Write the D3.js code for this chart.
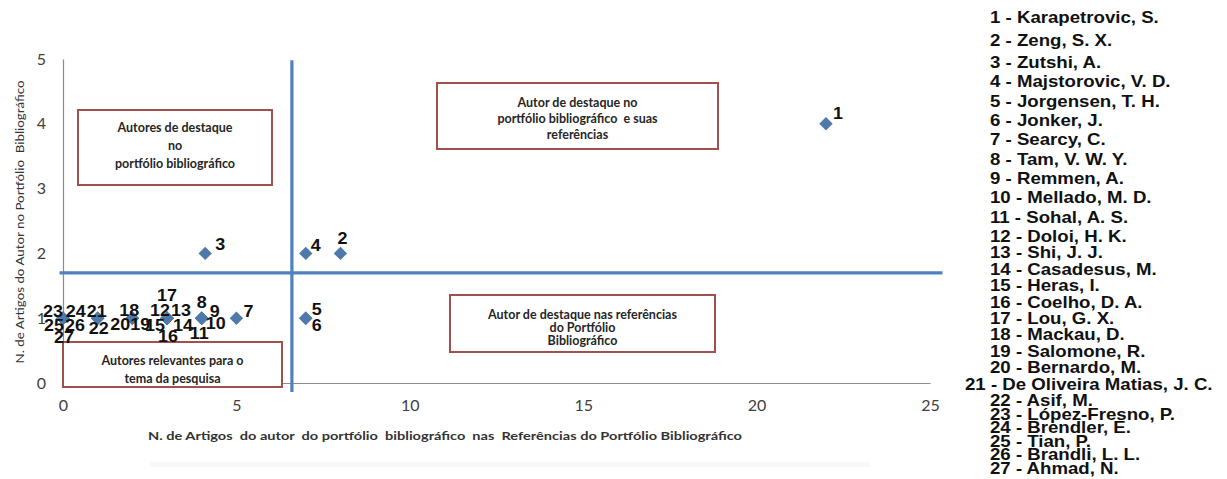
<!DOCTYPE html>
<html>
<head>
<meta charset="utf-8">
<script src="https://cdn.jsdelivr.net/npm/d3@7/dist/d3.min.js"></script>
<style>
  body { margin: 0; background: #fff; }
  svg { display: block; }
</style>
</head>
<body>
<div id="chart"></div>
<script>
// data
const authorIds = d3.range(1, 28);
const authorNames = [
  "Karapetrovic, S.", "Zeng, S. X.", "Zutshi, A.", "Majstorovic, V. D.", "Jorgensen, T. H.",
  "Jonker, J.", "Searcy, C.", "Tam, V. W. Y.", "Remmen, A.", "Mellado, M. D.",
  "Sohal, A. S.", "Doloi, H. K.", "Shi, J. J.", "Casadesus, M.", "Heras, I.",
  "Coelho, D. A.", "Lou, G. X.", "Mackau, D.", "Salomone, R.", "Bernardo, M.",
  "De Oliveira Matias, J. C.", "Asif, M.", "López-Fresno, P.", "Brendler, E.", "Tian, P.",
  "Brandli, L. L.", "Ahmad, N."
];
// x: articles in the references of the portfolio
const refArticles = [22, 8, 4.1, 7, 7, 7, 5, 4, 4, 4, 4, 3, 3, 3, 3, 3, 3, 2, 2, 2, 1, 1, 0, 1, 0, 0, 0];
// y: articles in the portfolio
const portfolioArticles = [4, 2, 2, 2, 1, 1, 1, 1, 1, 1, 1, 1, 1, 1, 1, 1, 1, 1, 1, 1, 1, 1, 1, 1, 1, 1, 1];
const xTicks = [0, 5, 10, 15, 20, 25];
const yTicks = [0, 1, 2, 3, 4, 5];
const xCut = 6.6;
const yCut = 1.7;
const quadrantTexts = [
  ["Autores de destaque", "no", "portfólio bibliográfico"],
  ["Autor de destaque no", "portfólio bibliográfico  e suas", "referências"],
  ["Autor de destaque nas referências", "do Portfólio", "Bibliográfico"],
  ["Autores relevantes para o", "tema da pesquisa"]
];
const xTitle = "N. de Artigos  do autor  do portfólio  bibliográfico  nas  Referências do Portfólio Bibliográfico";
const yTitle = "N. de Artigos do Autor no Portfólio  Bibliográfico";

const W = 1227, H = 479;
const blue = "#4f81bd", boxRed = "#a0504d", axisGray = "#8c8c8c";

const svg = d3.select("#chart").append("svg")
  .attr("width", W).attr("height", H);

const x = d3.scaleLinear().domain([0, 25]).range([63, 930]);
const y = d3.scaleLinear().domain([0, 5]).range([383, 59]);

// faint smudge under the title
svg.append("rect").attr("x", 150).attr("y", 462).attr("width", 720).attr("height", 5)
  .attr("fill", "#f8f8f8");

// axes
const gx = svg.append("g").attr("transform", `translate(0,${y(0)})`)
  .call(d3.axisBottom(x).tickValues(xTicks).tickFormat(d3.format("d")).tickSize(0).tickPadding(17));
const gy = svg.append("g").attr("transform", `translate(${x(0)},0)`)
  .call(d3.axisLeft(y).tickValues(yTicks).tickFormat(d3.format("d")).tickSize(0).tickPadding(17));
[gx, gy].forEach(g => {
  g.select(".domain").attr("stroke", axisGray).attr("stroke-width", 1.2);
  g.selectAll("text").attr("font-family", "Lato, sans-serif").attr("font-size", 16)
    .attr("fill", "#404040");
});

svg.append("text")
  .attr("x", 445).attr("y", 440)
  .attr("text-anchor", "middle")
  .attr("font-family", "Lato, sans-serif").attr("font-size", 12).attr("font-weight", "bold")
  .attr("fill", "#333")
  .attr("textLength", 594).attr("lengthAdjust", "spacingAndGlyphs")
  .attr("xml:space", "preserve")
  .text(xTitle);

svg.append("text")
  .attr("transform", "translate(24,222) rotate(-90)")
  .attr("text-anchor", "middle")
  .attr("font-family", "Lato, sans-serif").attr("font-size", 11.5)
  .attr("fill", "#333")
  .attr("textLength", 283).attr("lengthAdjust", "spacingAndGlyphs")
  .attr("xml:space", "preserve")
  .text(yTitle);

// quadrant boxes
const boxLayout = [
  { x0: 78, y0: 110, x1: 272, y1: 185, lines: [128, 146, 164] },
  { x0: 437, y0: 83, x1: 718, y1: 149, lines: [103, 119, 135] },
  { x0: 450, y0: 295, x1: 715, y1: 352, lines: [315, 328, 341] },
  { x0: 63, y0: 342, x1: 282, y1: 387, lines: [361, 379] }
];
boxLayout.forEach((b, i) => {
  svg.append("rect")
    .attr("x", b.x0).attr("y", b.y0)
    .attr("width", b.x1 - b.x0).attr("height", b.y1 - b.y0)
    .attr("fill", "#fff").attr("stroke", boxRed).attr("stroke-width", 2);
  quadrantTexts[i].forEach((t, j) => {
    svg.append("text")
      .attr("x", (b.x0 + b.x1) / 2).attr("y", b.lines[j] + 4)
      .attr("text-anchor", "middle")
      .attr("font-family", "Lato, sans-serif").attr("font-size", 12.5).attr("font-weight", "bold")
      .attr("fill", "#262626")
      .attr("xml:space", "preserve")
      .text(t);
  });
});

// threshold lines
svg.append("line")
  .attr("x1", x(xCut)).attr("x2", x(xCut))
  .attr("y1", y(-0.14)).attr("y2", y(4.98))
  .attr("stroke", blue).attr("stroke-width", 3.2);
svg.append("line")
  .attr("x1", x(-0.1)).attr("x2", x(25.36))
  .attr("y1", y(yCut)).attr("y2", y(yCut))
  .attr("stroke", blue).attr("stroke-width", 3.2);

// points
const points = authorIds.map((id, i) => ({ id, rx: refArticles[i], py: portfolioArticles[i] }));
const diamond = d3.symbol().type(d3.symbolSquare).size(90);
svg.selectAll("path.pt")
  .data(points)
  .join("path")
  .attr("class", "pt")
  .attr("d", diamond)
  .attr("transform", d => `translate(${x(d.rx)},${y(d.py)}) rotate(45)`)
  .attr("fill", "#4e7aab");

// label placement around each diamond (dx, baseline dy)
const labelOffset = {
  1: [7, -5], 2: [-3, -9], 3: [10, -3], 4: [5, -2], 5: [6, -3], 6: [6, 13],
  7: [7, -1], 8: [-5, -10], 9: [8, -1], 10: [4, 11], 11: [-12, 21],
  12: [-17, -2], 13: [4, -2], 14: [6, 13], 15: [-22, 13], 16: [-9, 24], 17: [-10, -17],
  18: [-13, -2], 19: [-2, 12], 20: [-22, 12], 21: [-11, -1], 22: [-9, 16],
  23: [-20, -1], 24: [-32, -1], 25: [-19, 13], 26: [2, 13], 27: [-9, 25]
};
svg.selectAll("text.lbl")
  .data(points)
  .join("text")
  .attr("class", "lbl")
  .attr("transform", d => `translate(${x(d.rx) + labelOffset[d.id][0]},${y(d.py) + labelOffset[d.id][1]}) scale(1.12,1)`)
  .attr("font-family", "'Liberation Sans', Arial, sans-serif")
  .attr("font-size", 16).attr("font-weight", "bold")
  .attr("fill", "#111")
  .text(d => d.id);

// legend list on the right
const row = d3.scaleLinear().domain([0, 2, 11, 21, 26]).range([17, 62, 236, 400, 468]);
svg.selectAll("text.leg")
  .data(authorIds)
  .join("text")
  .attr("class", "leg")
  .attr("transform", (d, i) => `translate(${d === 21 ? 965 : 990},${row(i) + 6}) scale(1.13,1)`)
  .attr("font-family", "'Liberation Sans', Arial, sans-serif")
  .attr("font-size", 16.5).attr("font-weight", "bold")
  .attr("fill", "#111")
  .text((d, i) => `${d} - ${authorNames[i]}`);
</script>
</body>
</html>
